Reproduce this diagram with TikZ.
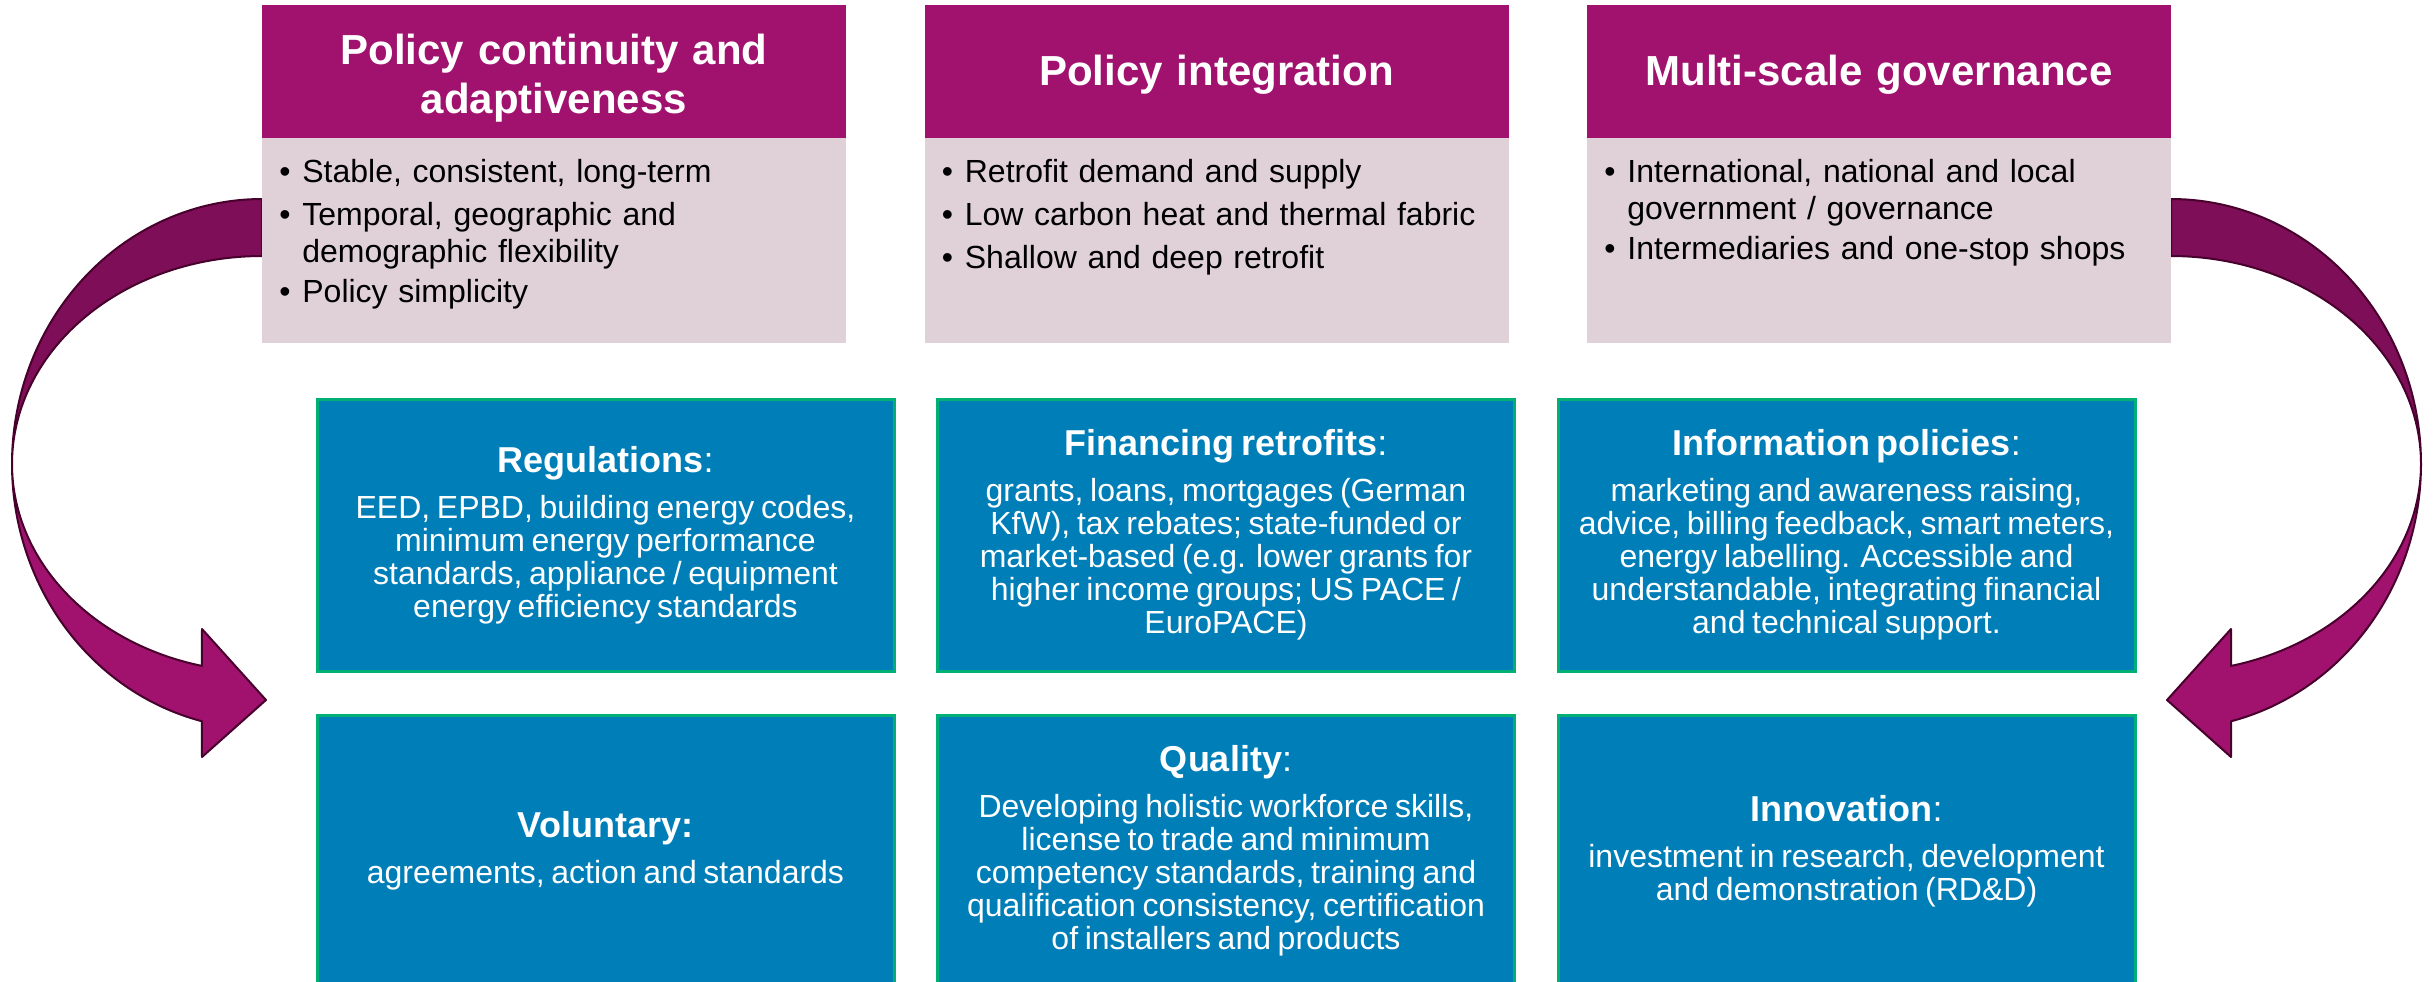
\documentclass[tikz,border=0pt]{standalone}
\usepackage{fontspec}
\setmainfont{Liberation Sans}

\definecolor{headmag}{RGB}{160,18,110}
\definecolor{headpink}{RGB}{224,209,217}
\definecolor{polblue}{RGB}{0,126,184}
\definecolor{polgreen}{RGB}{0,176,116}
\definecolor{arrdark}{RGB}{126,14,88}
\definecolor{arrlight}{RGB}{160,18,110}
\definecolor{arrline}{RGB}{72,0,44}

% one bullet paragraph: bullet mark, then a hanging block of lines
\newcommand\bulpar[1]{\par\noindent\makebox[11.5pt][l]{\strut\textbullet}%
  \parbox[t]{262pt}{\raggedright #1}\par}

\begin{document}
\begin{tikzpicture}[x=0.5pt,y=-0.5pt,
  headbox/.style={fill=headmag, inner sep=0pt, minimum width=292pt, minimum height=66.5pt},
  headtext/.style={text=white, inner sep=0pt, text width=285pt, align=center,
    font=\bfseries\fontsize{21}{24.5}\selectfont},
  bodybox/.style={fill=headpink, inner sep=0pt, minimum width=292pt, minimum height=102.5pt},
  bullets/.style={anchor=north west, inner sep=0pt, text width=275pt,
    font=\fontsize{16}{18.5}\selectfont},
  polbox/.style={fill=polblue, draw=polgreen, line width=1.5pt, text=white, inner sep=0pt,
    minimum width=288.5pt, minimum height=136pt, text width=280pt, align=center},
  bandback/.style={fill=arrdark, draw=arrline, line width=1pt, line join=round},
  bandfront/.style={fill=arrlight, draw=arrline, line width=1pt, line join=round}
]
\useasboundingbox (0,0) rectangle (2433,981);

% curved arrow on the left: back band, then front band with its head
\path[bandback]
  plot[domain=90:180, samples=80] ({262+250*cos(\x)}, {464-265*sin(\x)})
  -- plot[domain=180:90, samples=80] ({262+250*cos(\x)}, {464-208*sin(\x)}) -- cycle;
\path[bandfront]
  plot[domain=180:256.1, samples=80] ({262+250*cos(\x)}, {464-265*sin(\x)})
  -- (202,757) -- (266,700) -- (202,629)
  -- plot[domain=256.1:180, samples=80] ({262+250*cos(\x)}, {464-208*sin(\x)}) -- cycle;

% curved arrow on the right, mirrored
\path[bandback]
  plot[domain=90:180, samples=80] ({2171-250*cos(\x)}, {464-265*sin(\x)})
  -- plot[domain=180:90, samples=80] ({2171-250*cos(\x)}, {464-208*sin(\x)}) -- cycle;
\path[bandfront]
  plot[domain=180:256.1, samples=80] ({2171-250*cos(\x)}, {464-265*sin(\x)})
  -- (2231,757) -- (2167,700) -- (2231,629)
  -- plot[domain=256.1:180, samples=80] ({2171-250*cos(\x)}, {464-208*sin(\x)}) -- cycle;

% principle columns: heading band and bullet panel
\node[bodybox] (b1) at (554,240.5) {};
\node[bodybox] (b2) at (1216.5,240.5) {};
\node[bodybox] (b3) at (1879,240.5) {};
\node[headbox] (t1) at (554,71.5) {};
\node[headbox] (t2) at (1216.5,71.5) {};
\node[headbox] (t3) at (1879,71.5) {};
\node[headtext] (n1) at (554,78) {Policy continuity and\\adaptiveness};
\node[headtext] (n2) at (1216.5,74.5) {Policy integration};
\node[headtext] (n3) at (1879,74.5) {Multi-scale governance};

\node[bullets] (l1) at (279,139) {\setlength\parskip{3pt}%
  \bulpar{Stable, consistent, long-term}%
  \bulpar{Temporal, geographic and\\demographic flexibility}%
  \bulpar{Policy simplicity}};
\node[bullets] (l2) at (941.5,139) {\setlength\parskip{3pt}%
  \bulpar{Retrofit demand and supply}%
  \bulpar{Low carbon heat and thermal fabric}%
  \bulpar{Shallow and deep retrofit}};
\node[bullets] (l3) at (1604,139) {\setlength\parskip{3pt}%
  \bulpar{International, national and local\\government / governance}%
  \bulpar{Intermediaries and one-stop shops}};

% policy instrument boxes
\newcommand\polhead[1]{{\fontsize{18}{21}\selectfont #1\par}\vspace{6.5pt}}
\newcommand\poltext[1]{{\fontsize{16}{16.5}\selectfont #1\par}}

\node[polbox] (p1) at (605.5,535) {\polhead{\textbf{Regulations}:}
  \poltext{EED, EPBD, building energy codes,\\minimum energy performance\\standards, appliance / equipment\\energy efficiency standards}};
\node[polbox] (p2) at (1226,535) {\polhead{\textbf{Financing retrofits}:}
  \poltext{grants, loans, mortgages (German\\KfW), tax rebates; state-funded or\\market-based (e.g. lower grants for\\higher income groups; US PACE /\\EuroPACE)}};
\node[polbox] (p3) at (1846.5,535) {\polhead{\textbf{Information policies}:}
  \poltext{marketing and awareness raising,\\advice, billing feedback, smart meters,\\energy labelling. Accessible and\\understandable, integrating financial\\and technical support.}};
\node[polbox] (p4) at (605.5,851) {\polhead{\textbf{Voluntary:}}
  \poltext{agreements, action and standards}};
\node[polbox] (p5) at (1226,851) {\polhead{\textbf{Quality}:}
  \poltext{Developing holistic workforce skills,\\license to trade and minimum\\competency standards, training and\\qualification consistency, certification\\of installers and products}};
\node[polbox] (p6) at (1846.5,851) {\polhead{\textbf{Innovation}:}
  \poltext{investment in research, development\\and demonstration (RD\&D)}};
\end{tikzpicture}
\end{document}
